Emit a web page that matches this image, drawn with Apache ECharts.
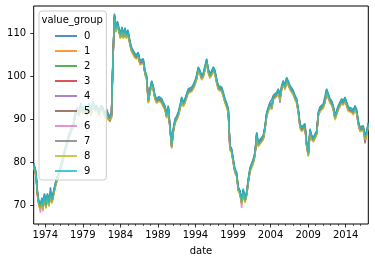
<!DOCTYPE html>
<html>
<head>
<meta charset="utf-8">
<script src="https://cdn.jsdelivr.net/npm/echarts@6/dist/echarts.min.js"></script>
<style>html,body{margin:0;padding:0;background:#fff}#c{width:375px;height:262px}</style>
</head>
<body>
<div id="c"></div>
<script>
// decimal years
const dates = [1972.46,1972.63,1972.76,1972.96,1973.16,1973.36,1973.56,1973.69,1973.89,1974.09,
1974.29,1974.49,1974.69,1974.89,1975.16,1975.42,1975.69,1975.96,1976.22,1976.62,
1977.02,1977.42,1977.75,1977.95,1978.22,1978.49,1978.75,1979.02,1979.29,1979.55,
1979.82,1980.09,1980.35,1980.62,1980.88,1981.15,1981.42,1981.68,1981.95,1982.22,
1982.42,1982.62,1982.81,1983.01,1983.21,1983.41,1983.61,1983.81,1984.01,1984.21,
1984.41,1984.61,1984.81,1985.01,1985.27,1985.48,1985.72,1985.94,1986.21,1986.38,
1986.61,1986.84,1987.05,1987.28,1987.50,1987.72,1987.94,1988.17,1988.38,1988.61,
1988.83,1989.14,1989.50,1989.74,1989.94,1990.17,1990.38,1990.61,1990.83,1991.04,
1991.27,1991.50,1991.71,1991.94,1992.16,1992.38,1992.60,1992.83,1993.04,1993.27,
1993.49,1993.71,1993.93,1994.16,1994.37,1994.60,1994.83,1995.04,1995.27,1995.49,
1995.70,1995.93,1996.16,1996.37,1996.60,1996.82,1997.04,1997.26,1997.49,1997.70,
1997.93,1998.15,1998.37,1998.59,1998.82,1999.03,1999.26,1999.48,1999.70,1999.93,
2000.15,2000.36,2000.59,2000.82,2001.03,2001.26,2001.48,2001.70,2001.92,2002.15,
2002.36,2002.59,2002.81,2003.03,2003.26,2003.48,2003.69,2003.92,2004.15,2004.36,
2004.59,2004.81,2005.03,2005.25,2005.48,2005.69,2005.92,2006.14,2006.36,2006.58,
2006.81,2007.02,2007.25,2007.47,2007.69,2007.92,2008.14,2008.35,2008.58,2008.80,
2009.02,2009.25,2009.47,2009.69,2009.91,2010.14,2010.35,2010.58,2010.80,2011.01,
2011.24,2011.46,2011.68,2011.91,2012.13,2012.35,2012.58,2012.80,2013.01,2013.24,
2013.47,2013.68,2013.91,2014.13,2014.35,2014.57,2014.80,2015.01,2015.24,2015.46,
2015.68,2015.90,2016.13,2016.34,2016.57,2016.80,2017.01];

const group0 = [79.8,78.8,77.8,73.3,70.8,70.3,71.8,70.1,72.8,70.3,
72.8,70.8,74.2,71.5,73.8,75.8,77.3,78.8,80.3,83.3,
85.8,87.8,89.3,91.3,92.8,91.8,93.8,92.3,93.3,91.8,
93.8,91.8,94.3,92.8,93.3,91.8,93.3,92.8,91.3,92.3,
90.8,90.6,91.3,104.3,114.6,111.3,112.8,111.3,109.8,111.5,
109.8,111.3,109.8,110.8,108.3,106.8,106.4,105.3,105.1,105.6,
103.7,103.3,104.1,101.4,100.2,94.8,97.1,99.0,97.8,95.6,
94.8,95.3,94.8,93.8,93.2,91.3,93.2,88.6,84.3,87.8,
90.1,90.8,91.7,93.3,95.2,94.0,94.8,94.8,97.1,96.8,
97.5,98.1,99.0,100.3,102.2,101.4,100.2,100.8,101.0,104.1,
101.8,100.6,101.3,102.2,101.4,99.4,97.9,98.1,97.5,96.3,
94.8,93.8,92.5,83.9,83.2,80.8,78.5,77.7,74.3,73.5,
71.3,73.9,71.6,73.3,76.2,78.8,79.8,80.8,82.4,87.0,
84.7,85.3,85.8,86.3,88.6,91.7,92.8,94.0,94.6,95.6,
95.8,96.3,97.1,95.6,97.9,99.0,97.9,99.8,100.2,97.9,
97.3,96.7,95.6,94.8,92.5,89.0,88.2,88.5,89.0,84.7,
82.4,87.8,86.3,85.8,85.5,87.4,91.7,92.9,93.2,93.6,
95.4,97.1,96.0,94.8,94.3,93.2,90.9,92.1,93.2,94.0,
94.8,94.3,95.2,94.8,92.9,92.9,92.6,92.1,93.2,92.3,
89.7,88.2,88.2,88.5,86.3,87.4,89.3];

const group1 = [79.2,78.2,77.2,72.7,70.2,69.7,71.2,69.5,72.2,69.7,
72.2,70.2,72.7,70.9,73.2,75.2,76.7,78.2,79.7,82.7,
85.2,87.2,88.7,90.7,92.2,91.2,93.2,91.7,92.7,91.2,
93.2,91.2,93.7,92.2,92.7,91.2,92.7,92.2,90.7,91.7,
90.2,90.0,90.7,103.7,114.0,110.7,112.2,110.7,109.2,110.9,
109.2,110.7,109.2,110.2,107.7,106.2,105.8,104.7,104.5,105.0,
103.1,102.7,103.5,100.8,99.6,94.2,96.5,98.4,97.2,95.0,
94.2,94.7,94.2,93.2,92.6,90.7,92.6,88.0,83.7,87.2,
89.5,90.2,91.1,92.7,94.6,93.4,94.2,94.2,96.5,96.2,
96.9,97.5,98.4,99.7,101.6,100.8,99.6,100.2,100.4,103.5,
101.2,100.0,100.7,101.6,100.8,98.8,97.3,97.5,96.9,95.7,
94.2,93.2,91.9,83.3,82.6,80.2,77.9,77.1,73.7,72.9,
70.7,73.3,71.0,72.7,75.6,78.2,79.2,80.2,81.8,86.4,
84.1,84.7,85.2,85.7,88.0,91.1,92.2,93.4,92.7,95.0,
95.2,95.7,96.5,95.0,97.3,98.4,97.3,99.2,99.6,97.3,
96.7,96.1,95.0,94.2,91.9,88.4,87.6,87.9,88.4,84.1,
81.8,87.2,85.7,85.2,84.9,86.8,91.1,92.3,92.6,93.0,
94.2,96.5,95.4,94.2,93.7,92.6,90.3,91.5,92.6,93.4,
94.2,93.7,94.6,94.2,92.3,92.3,92.0,91.5,92.6,91.7,
89.1,87.6,87.6,87.9,85.7,86.8,88.7];

const group2 = [79.5,78.5,77.5,73,70.5,70.0,71.5,69.8,72.5,70,
72.5,70.5,73,71.2,73.5,75.5,77,78.5,80,83,
85.5,87.5,89,91,92.5,91.5,93.5,92,93,91.5,
93.5,91.5,94,92.5,93,91.5,93,92.5,91,92,
90.5,90.3,91,104,114.3,111,112.5,111,109.5,111.2,
109.5,111,109.5,110.5,108,106.5,106.1,105,104.8,105.3,
103.4,103,103.8,101.1,99.9,94.5,96.8,98.7,97.5,95.3,
94.5,95,94.5,93.5,92.9,91,92.9,88.3,84,87.5,
89.8,90.5,91.4,93,94.9,93.7,94.5,94.5,96.8,96.5,
97.2,97.8,98.7,100,101.9,101.1,99.9,100.5,100.7,103.8,
101.5,100.3,101,101.9,101.1,99.1,97.6,97.8,97.2,96,
94.5,93.5,92.2,83.6,82.9,80.5,78.2,77.4,74,73.2,
71,73.6,71.3,73,75.9,78.5,79.5,80.5,82.1,86.7,
84.4,85,85.5,86,88.3,91.4,92.5,93.7,93,95.3,
95.5,96,96.8,95.3,97.6,98.7,97.6,99.5,99.9,97.6,
97,96.4,95.3,94.5,92.2,88.7,87.9,88.2,88.7,84.4,
82.1,87.5,86,85.5,85.2,87.1,91.4,92.6,92.9,93.3,
94.5,96.8,95.7,94.5,94,92.9,90.6,91.8,92.9,93.7,
94.5,94,94.9,94.5,92.6,92.6,92.3,91.8,92.9,92,
89.4,87.9,87.9,88.2,86,87.1,89];

const group3 = [79.0,78.0,77.0,72.5,70.0,69.5,71.0,69.3,72.0,69.5,
72.0,70.0,72.5,70.7,73.0,75.0,76.5,78.0,79.5,82.5,
85.0,87.0,88.5,90.5,92.0,91.0,93.0,91.5,92.5,91.0,
93.0,91.0,93.5,92.0,92.5,91.0,92.5,92.0,90.5,91.5,
90.0,89.8,90.5,103.5,113.8,110.5,112.0,110.5,109.0,110.7,
109.0,110.5,109.0,110.0,107.5,106.0,105.6,104.5,104.3,104.8,
102.9,102.5,103.3,100.6,99.4,94.0,96.3,98.2,97.0,94.8,
94.0,94.5,94.0,93.0,92.4,90.5,92.4,87.8,83.5,87.0,
89.3,90.0,90.9,92.5,94.4,93.2,94.0,94.0,96.3,96.0,
96.7,97.3,98.2,99.5,101.4,100.6,99.4,100.0,100.2,103.3,
101.0,99.8,100.5,101.4,100.6,98.6,97.1,97.3,96.7,95.5,
94.0,93.0,91.7,83.1,82.4,80.0,77.7,76.9,73.5,72.7,
70.5,73.1,70.8,72.5,75.4,78.0,79.0,80.0,81.6,86.2,
83.9,84.5,85.0,85.5,87.8,90.9,92.0,93.2,92.5,94.8,
95.0,95.5,96.3,94.8,97.1,98.2,97.1,99.0,99.4,97.1,
96.5,95.9,94.8,94.0,91.7,88.2,87.4,87.7,88.2,83.9,
81.6,87.0,85.5,85.0,84.7,86.6,90.9,92.1,92.4,92.8,
94.0,96.3,95.2,94.0,93.5,92.4,90.1,91.3,92.4,93.2,
94.0,93.5,94.4,94.0,92.1,92.1,91.8,91.3,92.4,91.5,
88.9,87.4,87.4,87.7,85.5,86.6,88.5];

const group4 = [79.2,78.2,77.2,72.7,70.2,69.7,71.2,69.5,72.2,69.7,
72.2,70.2,72.7,70.9,73.2,75.2,76.7,78.2,79.7,82.7,
85.2,87.2,88.7,90.7,92.2,91.2,93.2,91.7,92.7,91.2,
93.2,91.2,93.7,92.2,92.7,91.2,92.7,92.2,90.7,91.7,
90.2,90.0,90.7,103.7,114.0,110.7,112.2,110.7,109.2,110.9,
109.2,110.7,109.2,110.2,107.7,106.2,105.8,104.7,104.5,105.0,
103.1,102.7,103.5,100.8,99.6,94.2,96.5,98.4,97.2,95.0,
94.2,94.7,94.2,93.2,92.6,90.7,92.6,88.0,83.7,87.2,
89.5,90.2,91.1,92.7,94.6,93.4,94.2,94.2,96.5,96.2,
96.9,97.5,98.4,99.7,101.6,100.8,99.6,100.2,100.4,103.0,
101.2,100.0,100.7,101.6,100.8,98.8,97.3,97.5,96.9,95.7,
94.2,93.2,91.9,83.3,82.6,80.2,77.9,77.1,73.7,72.9,
70.7,73.3,71.0,72.7,75.6,78.2,79.2,80.2,81.8,86.4,
84.1,84.7,85.2,85.7,88.0,91.1,92.2,93.4,92.7,95.0,
95.2,95.7,96.5,95.0,97.3,98.4,97.3,99.2,99.6,97.3,
96.7,96.1,95.0,94.2,91.9,88.4,87.6,87.9,88.4,84.1,
81.8,87.2,85.7,85.2,84.9,86.8,91.1,92.3,92.6,93.0,
94.2,96.5,95.4,94.2,93.7,92.6,90.3,91.5,92.6,93.4,
94.2,93.7,94.6,94.2,92.3,92.3,92.0,91.5,92.6,91.7,
89.1,87.6,87.6,87.9,85.7,86.8,88.7];

const group5 = [79.0,78.0,77.0,72.5,70.0,69.5,71.0,69.3,72.0,69.5,
72.0,70.0,72.5,70.7,73.0,75.0,76.5,78.0,79.5,82.5,
85.0,87.0,88.5,90.5,92.0,91.0,93.0,91.5,92.5,91.0,
93.0,91.0,93.5,92.0,92.5,91.0,92.5,92.0,90.5,91.5,
90.0,89.5,90.5,103.5,113.8,110.5,112.0,110.5,109.0,110.7,
109.0,110.5,109.0,110.0,107.5,106.0,105.6,104.5,104.3,104.8,
102.9,102.5,103.3,100.6,99.4,94.0,96.3,98.2,97.0,94.8,
94.0,94.5,94.0,93.0,92.4,90.5,92.4,87.8,83.5,87.0,
89.3,90.0,90.9,92.5,94.4,93.2,94.0,94.0,96.3,96.0,
96.7,97.3,98.2,99.5,101.4,100.6,99.4,100.0,100.2,103.3,
101.0,99.8,100.5,101.4,100.6,98.6,97.1,97.3,96.7,95.5,
94.0,93.0,91.7,83.1,82.4,80.0,77.7,76.9,73.5,72.7,
70.5,73.1,70.8,72.5,75.4,78.0,79.0,80.0,81.6,86.2,
83.9,84.5,85.0,85.5,87.8,90.9,92.0,93.2,92.5,94.8,
95.0,95.5,96.3,94.8,97.1,98.2,97.1,99.0,99.4,97.1,
96.5,95.9,94.8,94.0,91.7,88.2,87.4,87.7,88.2,83.9,
81.6,87.0,85.5,85.0,84.7,86.6,90.9,92.1,92.4,92.8,
94.0,96.3,95.2,94.0,93.5,92.4,90.1,91.3,92.4,93.2,
94.0,93.5,94.4,94.0,92.1,92.1,91.8,91.3,92.4,91.5,
88.9,87.4,87.4,87.7,84.4,86.6,88.5];

const group6 = [79.0,78.0,77.0,72.5,70.0,68.3,71.0,68.6,72.0,69.5,
72.0,70.0,72.5,70.7,73.0,75.0,76.5,78.0,79.5,82.5,
85.0,87.0,88.5,90.5,92.0,91.0,93.0,91.5,92.5,91.0,
93.0,91.0,93.5,92.0,92.5,91.0,92.5,92.0,90.5,91.5,
90.0,89.8,90.5,103.5,113.8,110.5,112.0,110.5,109.0,110.7,
109.0,110.5,109.0,110.0,107.5,106.0,105.6,104.5,104.3,104.8,
102.9,102.5,103.3,100.6,99.4,94.0,96.3,98.2,97.0,94.8,
94.0,94.5,94.0,93.0,92.4,90.5,92.4,87.8,83.3,87.0,
89.3,90.0,90.9,92.5,94.4,93.2,94.0,94.0,96.3,96.0,
96.7,97.3,98.2,99.5,101.4,100.6,99.4,100.0,100.2,103.3,
101.0,99.8,100.5,101.4,100.6,98.6,97.1,97.3,96.7,95.5,
94.0,93.0,91.7,83.1,82.4,80.0,77.7,76.9,73.5,72.7,
69.4,73.1,70.8,72.5,75.4,78.0,79.0,80.0,81.6,86.2,
83.9,84.5,85.0,85.5,87.8,90.9,92.0,93.2,92.5,94.8,
95.0,95.5,96.3,94.8,97.1,98.2,97.1,99.0,99.4,97.1,
96.5,95.9,94.8,94.0,91.7,88.2,87.4,87.7,88.2,83.9,
81.6,87.0,85.5,85.0,84.7,86.6,90.9,90.5,92.4,92.8,
94.0,96.3,95.2,94.0,93.5,92.4,90.1,91.3,92.4,93.2,
94.0,93.5,94.4,94.0,92.1,92.1,91.8,91.3,92.4,91.5,
88.9,87.4,87.4,87.7,85.5,86.6,88.5];

const group7 = [79.2,78.2,77.2,72.7,70.2,69.7,71.2,69.5,72.2,69.7,
72.2,70.2,72.7,70.9,73.2,75.2,76.7,78.2,79.7,82.7,
85.2,87.2,88.7,90.7,92.2,91.2,93.2,91.7,92.7,91.2,
93.2,91.2,93.7,92.2,92.7,91.2,92.7,92.2,90.7,91.7,
90.2,90.0,90.7,103.7,114.0,110.7,112.2,110.7,109.2,110.9,
109.2,110.7,109.2,110.2,107.7,106.2,105.8,104.7,104.5,105.0,
103.1,102.7,103.5,100.8,99.6,94.2,96.5,98.4,97.2,95.0,
94.2,94.7,94.2,93.2,92.6,90.7,92.6,88.0,83.7,87.2,
89.5,90.2,91.1,92.7,94.6,93.4,94.2,94.2,96.5,96.2,
96.9,97.5,98.4,99.7,101.6,100.8,99.6,100.2,100.4,103.5,
101.2,100.0,100.7,101.6,100.8,98.8,97.3,97.5,96.9,95.7,
94.2,93.2,91.9,83.3,82.6,80.2,77.9,77.1,73.7,72.9,
70.7,73.3,71.0,72.7,75.6,78.2,79.2,80.2,81.8,86.4,
84.1,84.7,85.2,85.7,88.0,91.1,92.2,93.4,92.7,95.0,
95.2,95.7,96.5,93.8,97.3,98.4,97.3,99.2,99.6,97.3,
96.7,96.1,95.0,94.2,91.9,88.4,87.6,87.9,88.4,84.1,
81.8,87.2,85.7,85.2,84.9,86.8,91.1,92.3,92.6,93.0,
94.2,96.5,95.4,94.2,93.7,92.6,90.3,91.5,92.6,93.4,
94.2,93.7,94.6,94.2,92.3,92.3,92.0,91.5,92.6,91.7,
89.1,87.6,87.6,87.9,85.7,86.8,88.7];

const group8 = [78.7,77.7,76.7,72.2,69.7,69.2,70.7,69.0,71.7,69.2,
71.7,69.7,72.2,70.4,72.7,74.7,76.2,77.7,79.2,82.2,
84.7,86.7,88.2,90.2,91.7,90.7,92.7,91.2,92.2,90.7,
92.7,90.7,93.2,91.7,92.2,90.7,92.2,91.7,90.2,91.2,
89.7,89.5,90.2,103.2,113.5,110.2,111.7,110.2,108.7,110.4,
108.7,110.2,108.7,109.7,107.2,105.7,105.3,104.2,104.0,104.5,
102.6,102.2,103.0,100.3,99.1,93.7,96.0,97.9,96.7,94.5,
93.7,94.2,93.7,92.7,92.1,90.2,92.1,87.5,83.2,86.7,
89.0,89.7,90.6,92.2,94.1,92.9,93.7,93.7,96.0,95.7,
96.4,97.0,97.9,99.2,101.1,100.3,99.1,99.7,99.9,103.0,
100.7,99.5,100.2,101.1,100.3,98.3,96.8,97.0,96.4,95.2,
93.7,92.7,91.4,82.8,82.1,79.7,77.4,76.6,73.2,72.4,
70.2,72.8,70.5,72.2,75.1,77.7,78.7,79.7,81.3,85.9,
83.6,84.2,84.7,85.2,87.5,90.6,91.7,92.9,92.2,94.5,
94.7,95.2,96.0,94.5,96.8,97.9,96.8,98.7,99.1,96.8,
96.2,95.6,94.5,93.7,91.4,87.9,87.1,87.4,87.9,83.6,
81.3,86.7,85.2,84.7,84.4,86.3,90.6,91.8,92.1,92.5,
93.7,96.0,94.9,93.7,93.2,92.1,89.8,91.0,92.1,92.9,
93.7,93.2,94.1,93.7,91.8,91.8,91.5,91.0,92.1,91.2,
88.6,87.1,87.1,87.4,85.2,86.3,88.2];

const group9 = [79.5,78.5,77.5,73,70.5,70.0,71.5,69.8,72.5,70,
72.5,70.5,73,71.2,73.5,75.5,77,78.5,80,83,
85.5,87.5,89,91,92.5,91.5,93.5,92,93,91.5,
93.5,91.5,94,92.5,93,91.5,93,92.5,91,92,
90.5,90.3,91,104,114.3,111,112.5,111,109.5,111.2,
109.5,111,109.5,110.5,108,106.5,106.1,105,104.8,105.3,
103.4,103,103.8,101.1,99.9,94.5,96.8,98.7,97.5,95.3,
94.5,95,94.5,93.5,92.9,91,92.9,88.3,84,87.5,
89.8,90.5,91.4,93,94.9,93.7,94.5,94.5,96.8,96.5,
97.2,97.8,98.7,100,101.9,101.1,99.9,100.5,100.7,103.8,
101.5,100.3,101,101.9,101.1,99.1,97.6,97.8,97.2,96,
94.5,93.5,92.2,83.6,82.9,80.5,78.2,77.4,74,73.2,
71,73.6,71.3,73,75.9,78.5,79.5,80.5,82.1,86.7,
84.4,85,85.5,86,88.3,91.4,92.5,93.7,93,95.3,
95.5,96,96.8,95.3,97.6,98.7,97.6,99.5,99.9,97.6,
97,96.4,95.3,94.5,92.2,88.7,87.9,88.2,88.7,84.4,
82.1,87.5,86,85.5,85.2,87.1,91.4,92.6,92.9,93.3,
94.5,96.8,95.7,94.5,94,92.9,90.6,91.8,92.9,93.7,
94.5,94,94.9,94.5,92.6,92.6,92.3,91.8,92.9,92,
89.4,87.9,87.9,88.2,86,87.1,89];

const groupNames = ['0','1','2','3','4','5','6','7','8','9'];
const groupValues = [group0,group1,group2,group3,group4,group5,group6,group7,group8,group9];
const groupColors = ['rgba(31,119,180,0.8)','rgba(255,127,14,0.8)','rgba(44,160,44,0.8)','rgba(214,39,40,0.8)',
  'rgba(148,103,189,0.8)','rgba(140,86,75,0.8)','rgba(227,119,194,0.8)','rgba(127,127,127,0.8)',
  'rgba(188,189,34,0.8)','rgba(23,190,207,0.8)'];
const yTickValues = [70, 80, 90, 100, 110];
const xMajorYears = [1974, 1979, 1984, 1989, 1994, 1999, 2004, 2009, 2014];
const xMinorYears = [1973,1975,1976,1977,1978,1980,1981,1982,1983,1985,1986,1987,1988,1990,1991,1992,1993,
  1995,1996,1997,1998,2000,2001,2002,2003,2005,2006,2007,2008,2010,2011,2012,2013,2015,2016];
const yMin = 65.65, yMax = 116.35;

const FONT = 'DejaVu Sans';
const chart = echarts.init(document.getElementById('c'), null, {renderer: 'canvas'});
const xMin = dates[0], xMax = dates[dates.length - 1];

const series = groupNames.map((name, k) => ({
  name: name,
  type: 'line',
  xAxisIndex: 0,
  yAxisIndex: 0,
  data: dates.map((d, i) => [d, groupValues[k][i]]),
  symbol: 'none',
  showSymbol: false,
  color: groupColors[k],
  lineStyle: {width: 1.5, color: groupColors[k]},
  emphasis: {disabled: true},
  animation: false
}));

chart.setOption({
  backgroundColor: '#ffffff',
  animation: false,
  grid: {left: 33.7, right: 6.7, top: 6, bottom: 38, show: true, borderColor: '#000', borderWidth: 1, backgroundColor: 'transparent'},
  xAxis: [{
    type: 'value', min: xMin, max: xMax, position: 'bottom',
    name: 'date', nameLocation: 'middle', nameGap: 22,
    nameTextStyle: {fontFamily: FONT, fontSize: 10, color: '#000'},
    axisLine: {show: false},
    splitLine: {show: false},
    axisTick: {show: true, length: 3.5, lineStyle: {color: '#000', width: 0.8}, customValues: xMajorYears},
    axisLabel: {show: true, margin: 6, fontFamily: FONT, fontSize: 10, color: '#000', customValues: xMajorYears, formatter: v => String(v)}
  }, {
    type: 'value', min: xMin, max: xMax, position: 'bottom', gridIndex: 0,
    axisLine: {show: false}, splitLine: {show: false},
    axisTick: {show: true, length: 2, lineStyle: {color: '#000', width: 0.6}, customValues: xMinorYears},
    axisLabel: {show: false}
  }],
  yAxis: [{
    type: 'value', min: yMin, max: yMax,
    axisLine: {show: false},
    splitLine: {show: false},
    axisTick: {show: true, length: 3.5, lineStyle: {color: '#000', width: 0.8}, customValues: yTickValues},
    axisLabel: {show: true, margin: 7.5, fontFamily: FONT, fontSize: 10, color: '#000', customValues: yTickValues, formatter: v => String(v)}
  }],
  legend: {
    orient: 'vertical', left: 39, top: 11,
    data: groupNames,
    icon: 'rect', itemWidth: 22, itemHeight: 2, itemGap: 3,
    textStyle: {fontFamily: FONT, fontSize: 10, color: '#000', lineHeight: 12, padding: [0, 0, 0, 2]},
    backgroundColor: 'rgba(255,255,255,0.8)', borderColor: '#cccccc', borderWidth: 1, borderRadius: 3,
    padding: [19, 16, 3, 16],
    selectedMode: false
  },
  graphic: [{
    type: 'text', left: 41.5, top: 15.5, z: 100,
    style: {text: 'value_group', font: '10px "DejaVu Sans"', fill: '#000'}
  }],
  series: series
});
</script>
</body>
</html>
